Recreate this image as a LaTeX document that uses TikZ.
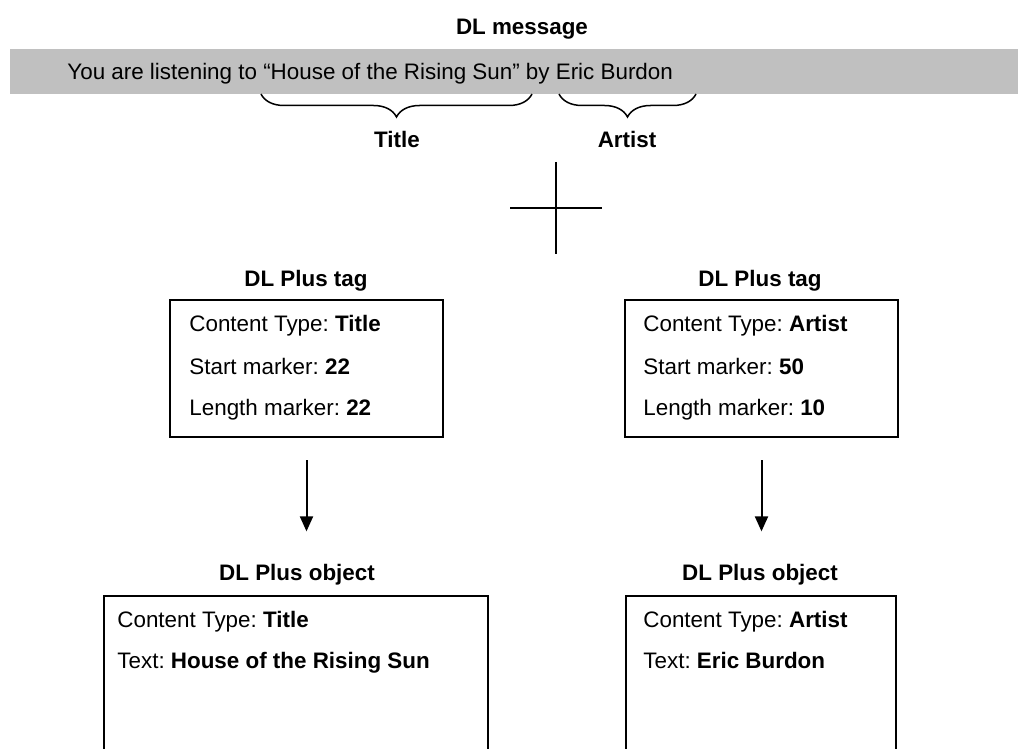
\documentclass[tikz,border=0pt]{standalone}
\usepackage{fontspec}
\setmainfont{Liberation Sans}
\usepackage{xcolor}
\usepackage{tikz}
\usetikzlibrary{calc}
\usetikzlibrary{arrows.meta}
\usetikzlibrary{positioning}
\usetikzlibrary{decorations.pathreplacing}
\frenchspacing
\definecolor{bargray}{RGB}{192,192,192}
\tikzset{>=latex}
\tikzstyle{txt} = [inner sep = 0pt, font = \fontsize{11.2}{13}\selectfont]
\tikzstyle{lbl} = [txt, font = \fontsize{11.2}{13}\selectfont\bfseries, anchor = base]
\tikzstyle{row} = [txt, anchor = base west]
\tikzstyle{box} = [rectangle, draw = black, line width = 1pt, anchor = north west, inner sep = 0pt]
\tikzstyle{brc} = [decorate, decoration = {brace, mirror, amplitude = 11.5pt}, line width = .75pt]
\tikzstyle{arr} = [-{Triangle[width = 6.5pt, length = 7.5pt]}, line width = 1pt, shorten <= 11pt, shorten >= 16pt]

\begin{document}
\begin{tikzpicture}[x = .5pt, y = -.5pt]
\useasboundingbox (0, 0) rectangle (1018, 749);
\clip (0, 0) rectangle (1018, 749);

% message bar
\node [lbl] (msgHead) at (522, 35) {DL message};
\node [rectangle, fill = bargray, anchor = north west, inner sep = 0pt, minimum width = 510pt, minimum height = 22.5pt] (bar) at (10, 49) {};
\node [row] (msg) at (67, 80) {You are listening to “House of the Rising Sun” by Eric Burdon};

% braces
\coordinate (titleS) at (261, 94);
\coordinate (titleE) at (532, 94);
\coordinate (artistS) at (559, 94);
\coordinate (artistE) at (696, 94);
\draw [brc] (titleS) -- (titleE);
\draw [brc] (artistS) -- (artistE);
\node [lbl] (lblTitle) at (397, 148) {Title};
\node [lbl] (lblArtist) at (627, 148) {Artist};

% cross
\coordinate (crossN) at (556, 162);
\coordinate (crossS) at (556, 254);
\coordinate (crossW) at (510, 208);
\coordinate (crossE) at (602, 208);
\draw [line width = 1pt] (crossW) -- (crossE);
\draw [line width = 1pt] (crossN) -- (crossS);

% tags
\node [lbl] (tagHeadL) at (306, 286) {DL Plus tag};
\node [box, minimum width = 136.5pt, minimum height = 68.5pt] (tagL) at (169, 299) {};
\node [row] (tagL1) at (189, 331) {Content Type: \textbf{Title}};
\node [row] (tagL2) at (189, 374) {Start marker: \textbf{22}};
\node [row] (tagL3) at (189, 415) {Length marker: \textbf{22}};

\node [lbl] (tagHeadR) at (760, 286) {DL Plus tag};
\node [box, minimum width = 136.5pt, minimum height = 68.5pt] (tagR) at (624, 299) {};
\node [row] (tagR1) at (643, 331) {Content Type: \textbf{Artist}};
\node [row] (tagR2) at (643, 374) {Start marker: \textbf{50}};
\node [row] (tagR3) at (643, 415) {Length marker: \textbf{10}};

% objects
\node [lbl] (objHeadL) at (297, 580) {DL Plus object};
\node [box, minimum width = 192pt, minimum height = 100pt] (objL) at (103, 595) {};
\node [row] (objL1) at (117, 627) {Content Type: \textbf{Title}};
\node [row] (objL2) at (117, 668) {Text: \textbf{House of the Rising Sun}};

\node [lbl] (objHeadR) at (760, 580) {DL Plus object};
\node [box, minimum width = 135pt, minimum height = 100pt] (objR) at (625, 595) {};
\node [row] (objR1) at (643, 627) {Content Type: \textbf{Artist}};
\node [row] (objR2) at (643, 668) {Text: \textbf{Eric Burdon}};

\draw [arr] (tagL.south) -- (tagL.south |- objHeadL.north);
\draw [arr] (tagR.south) -- (tagR.south |- objHeadR.north);
\end{tikzpicture}
\end{document}
